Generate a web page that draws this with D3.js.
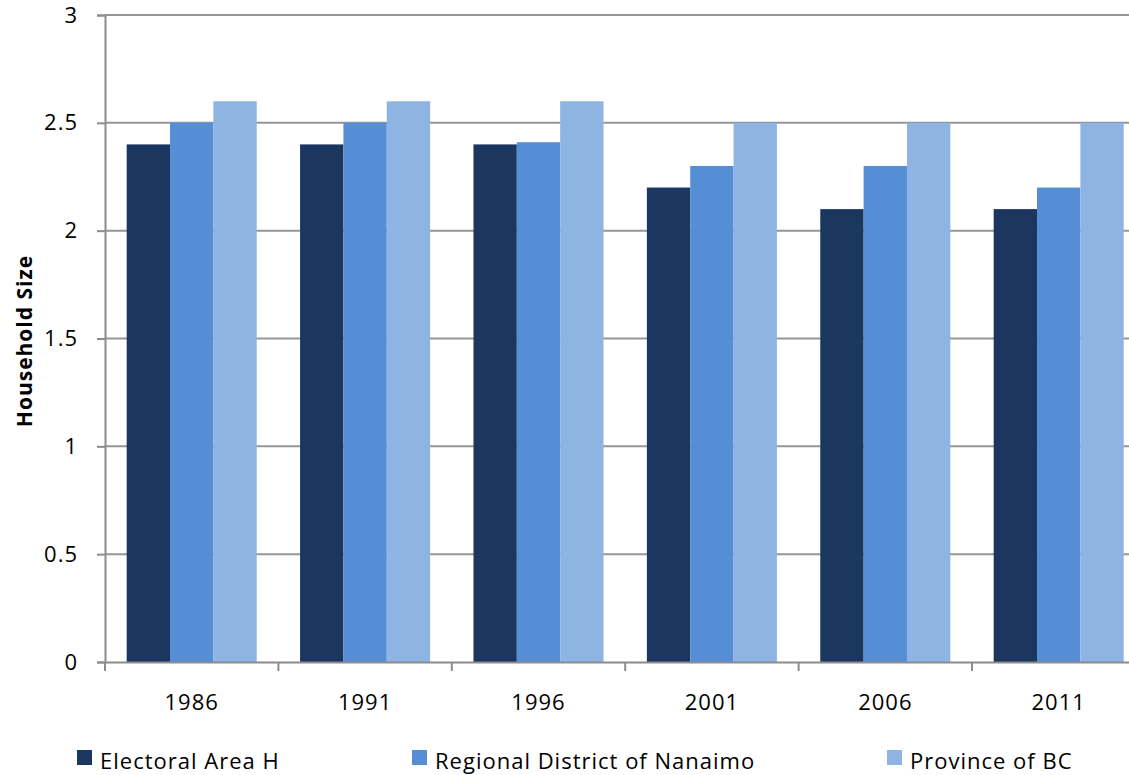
<!DOCTYPE html>
<html>
<head>
<meta charset="utf-8">
<script src="https://cdn.jsdelivr.net/npm/d3@7"></script>
<style>
  html, body { margin: 0; padding: 0; background: #fff; }
  svg { display: block; }
  text { font-family: "Open Sans", "Noto Sans", sans-serif; fill: #000; }
</style>
</head>
<body>
<svg id="chart" width="1129" height="775"></svg>
<script>
// Census years
const categories = ["1986", "1991", "1996", "2001", "2006", "2011"];
// Average household size by area
const seriesNames = ["Electoral Area H", "Regional District of Nanaimo", "Province of BC"];
const electoralAreaH = [2.4, 2.4, 2.4, 2.2, 2.1, 2.1];
const regionalDistrict = [2.5, 2.5, 2.41, 2.3, 2.3, 2.2];
const provinceBC = [2.6, 2.6, 2.6, 2.5, 2.5, 2.5];
const yTicks = [0, 0.5, 1, 1.5, 2, 2.5, 3];
const colors = ["#1b375f", "#558ed5", "#8eb4e3"];

const seriesValues = [electoralAreaH, regionalDistrict, provinceBC];

const svg = d3.select("#chart");
const plotLeft = 105, plotBottom = 662, plotTop = 15;
const step = 173.4;
const plotRight = plotLeft + step * categories.length;

const x = d3.scaleBand().domain(categories).range([plotLeft, plotRight]).padding(0);
const bw = x.bandwidth();
const xInner = d3.scaleBand().domain(seriesNames).range([bw / 8, bw * 7 / 8]).padding(0);
const y = d3.scaleLinear().domain([0, 3]).range([plotBottom, plotTop]);

// horizontal gridlines
svg.append("g")
  .selectAll("line")
  .data(yTicks.filter(d => d > 0))
  .join("line")
  .attr("x1", plotLeft).attr("x2", 1129)
  .attr("y1", d => y(d)).attr("y2", d => y(d))
  .attr("stroke", "#969696").attr("stroke-width", 2);

// bars
const groups = svg.append("g")
  .selectAll("g")
  .data(categories)
  .join("g")
  .attr("transform", d => `translate(${x(d)},0)`);

groups.selectAll("rect")
  .data((d, i) => seriesNames.map((s, j) => ({ s, j, v: seriesValues[j][i] })))
  .join("rect")
  .attr("x", d => xInner(d.s))
  .attr("width", xInner.bandwidth())
  .attr("y", d => y(d.v))
  .attr("height", d => plotBottom - y(d.v))
  .attr("fill", d => colors[d.j]);

// y axis
const yAxis = svg.append("g")
  .attr("transform", `translate(${plotLeft},0)`)
  .call(d3.axisLeft(y).tickValues(yTicks).tickFormat(d3.format("")).tickSize(8).tickPadding(19));
yAxis.select(".domain").attr("stroke", "#8c8c8c").attr("stroke-width", 2);
yAxis.selectAll(".tick line").attr("stroke", "#8c8c8c").attr("stroke-width", 2);
yAxis.selectAll(".tick text")
  .attr("font-size", 22)
  .attr("letter-spacing", 1)
  .attr("font-family", "'Open Sans', sans-serif")
  .attr("fill", "#000");

// x axis
const xAxis = svg.append("g")
  .attr("transform", `translate(0,${plotBottom})`)
  .call(d3.axisBottom(x).tickSize(0).tickPadding(32));
xAxis.select(".domain").attr("stroke", "#8c8c8c").attr("stroke-width", 2);
xAxis.selectAll(".tick text")
  .attr("font-size", 22)
  .attr("letter-spacing", 1)
  .attr("font-family", "'Open Sans', sans-serif")
  .attr("fill", "#000");

// category boundary tick marks
svg.append("g")
  .selectAll("line")
  .data(d3.range(categories.length + 1))
  .join("line")
  .attr("x1", i => plotLeft + i * step).attr("x2", i => plotLeft + i * step)
  .attr("y1", plotBottom).attr("y2", plotBottom + 9)
  .attr("stroke", "#8c8c8c").attr("stroke-width", 2);

// y axis title
svg.append("text")
  .attr("transform", "translate(32,341) rotate(-90)")
  .attr("text-anchor", "middle")
  .attr("font-size", 21)
  .attr("letter-spacing", 1)
  .attr("font-weight", "bold")
  .text("Household Size");

// legend
const legendX = [77, 412, 887];
const legend = svg.append("g")
  .selectAll("g")
  .data(seriesNames)
  .join("g")
  .attr("transform", (d, i) => `translate(${legendX[i]},750)`);
legend.append("rect")
  .attr("width", 15).attr("height", 15)
  .attr("fill", (d, i) => colors[i]);
legend.append("text")
  .attr("x", 23).attr("y", 19)
  .attr("font-size", 22)
  .attr("letter-spacing", 1)
  .text(d => d);
</script>
</body>
</html>
